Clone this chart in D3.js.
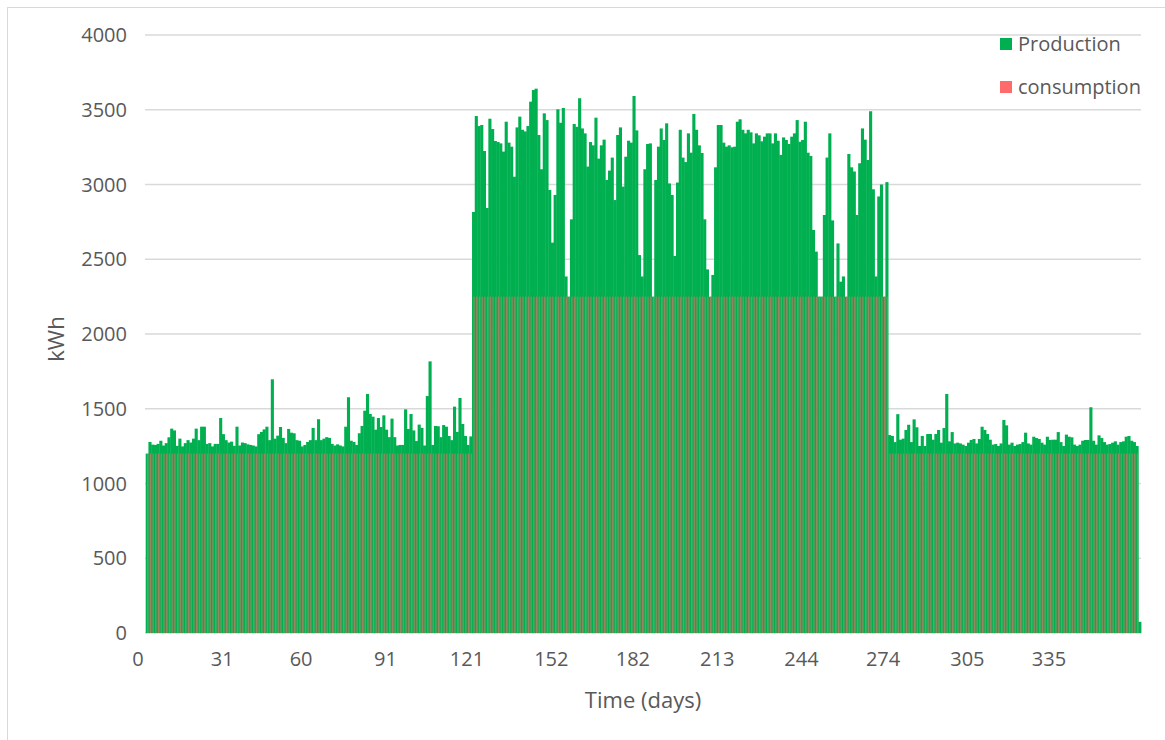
<!DOCTYPE html>
<html><head><meta charset="utf-8">
<script src="https://cdn.jsdelivr.net/npm/d3@7"></script>
<style>body{margin:0;background:#fff}svg{display:block}text{font-family:"Open Sans",sans-serif;fill:#595959}</style>
</head><body><svg id="c" width="1165" height="740"></svg>
<script>
const production = [
1200,1278,1260,1258,1265,1286,1254,1270,1309,1367,
1355,1252,1300,1248,1270,1290,1274,1300,1367,1290,
1380,1380,1265,1270,1248,1265,1265,1438,1330,1290,
1274,1280,1252,1380,1254,1274,1270,1262,1258,1254,
1248,1330,1345,1362,1380,1290,1697,1300,1320,1378,
1305,1270,1365,1340,1336,1290,1286,1248,1258,1278,
1290,1372,1290,1430,1290,1300,1310,1305,1265,1254,
1262,1254,1248,1380,1577,1286,1278,1258,1336,1385,
1487,1599,1465,1447,1360,1438,1378,1456,1360,1310,
1434,1310,1254,1258,1258,1496,1365,1465,1355,1284,
1394,1372,1254,1585,1817,1258,1385,1383,1310,1391,
1380,1318,1290,1514,1345,1572,1398,1318,1258,1315,
2816,3458,3391,3398,3224,2843,3440,3371,3291,3284,
3275,3220,3420,3280,3253,3052,3382,3454,3366,3355,
3391,3554,3632,3641,3331,3102,3476,3431,2963,2611,
2930,3503,3413,3512,2385,2250,2767,3405,3386,3577,
3375,3342,3120,3284,3262,3447,3173,3262,3300,3030,
3093,3180,2896,3331,3382,2986,3186,3293,3280,3592,
3362,2528,2385,3102,3271,3275,2250,3030,
3253,3375,3298,3409,3007,2930,2522,3013,3366,3180,
3150,3342,3213,3472,3366,3262,3211,2767,2432,2250,
2395,3115,3398,3398,3280,3253,3262,3249,3253,3420,
3436,3366,3342,3366,3349,3275,3342,3329,3289,3320,
3342,3342,3275,3342,3293,3198,3315,3298,3271,3320,
3342,3431,
3286,3298,3420,3213,3191,2696,2551,2250,2250,2796,
3180,3342,2760,2250,2606,2350,2385,2250,3204,3115,
3087,2796,3142,3375,3300,3164,3490,2968,2385,2920,
3000,2250,3016,
1324,1318,1277,1464,1293,1300,1358,1393,1277,1429,
1376,1251,1318,1251,1331,1331,1293,1331,1358,1273,
1371,1599,1282,1344,1268,1273,1268,1260,1251,1273,
1291,1298,1268,1298,1380,1358,1331,1293,1260,1264,
1251,1268,1425,1389,1260,1273,1251,1260,1264,
1277,1340,1268,1260,1313,1304,1298,1273,1260,1313,
1291,1293,1293,1344,1277,1251,1327,1313,1309,1260,
1251,1260,1286,1291,1291,1510,1286,1260,1322,1304,
1277,1260,1264,1273,1282,1260,1277,1282,1313,
1318,1286,1277,1251,
75];
const consumption = [
1200,1200,1200,1200,1200,1200,1200,1200,1200,1200,
1200,1200,1200,1200,1200,1200,1200,1200,1200,1200,
1200,1200,1200,1200,1200,1200,1200,1200,1200,1200,
1200,1200,1200,1200,1200,1200,1200,1200,1200,1200,
1200,1200,1200,1200,1200,1200,1200,1200,1200,1200,
1200,1200,1200,1200,1200,1200,1200,1200,1200,1200,
1200,1200,1200,1200,1200,1200,1200,1200,1200,1200,
1200,1200,1200,1200,1200,1200,1200,1200,1200,1200,
1200,1200,1200,1200,1200,1200,1200,1200,1200,1200,
1200,1200,1200,1200,1200,1200,1200,1200,1200,1200,
1200,1200,1200,1200,1200,1200,1200,1200,1200,1200,
1200,1200,1200,1200,1200,1200,1200,1200,1200,1200,
2250,2250,2250,2250,2250,2250,2250,2250,2250,2250,
2250,2250,2250,2250,2250,2250,2250,2250,2250,2250,
2250,2250,2250,2250,2250,2250,2250,2250,2250,2250,
2250,2250,2250,2250,2250,2250,2250,2250,2250,2250,
2250,2250,2250,2250,2250,2250,2250,2250,2250,2250,
2250,2250,2250,2250,2250,2250,2250,2250,2250,2250,
2250,2250,2250,2250,2250,2250,2250,2250,
2250,2250,2250,2250,2250,2250,2250,2250,2250,2250,
2250,2250,2250,2250,2250,2250,2250,2250,2250,2250,
2250,2250,2250,2250,2250,2250,2250,2250,2250,2250,
2250,2250,2250,2250,2250,2250,2250,2250,2250,2250,
2250,2250,2250,2250,2250,2250,2250,2250,2250,2250,
2250,2250,
2250,2250,2250,2250,2250,2250,2250,2250,2250,2250,
2250,2250,2250,2250,2250,2250,2250,2250,2250,2250,
2250,2250,2250,2250,2250,2250,2250,2250,2250,2250,
2250,2250,2250,
1200,1200,1200,1200,1200,1200,1200,1200,1200,1200,
1200,1200,1200,1200,1200,1200,1200,1200,1200,1200,
1200,1200,1200,1200,1200,1200,1200,1200,1200,1200,
1200,1200,1200,1200,1200,1200,1200,1200,1200,1200,
1200,1200,1200,1200,1200,1200,1200,1200,1200,
1200,1200,1200,1200,1200,1200,1200,1200,1200,1200,
1200,1200,1200,1200,1200,1200,1200,1200,1200,1200,
1200,1200,1200,1200,1200,1200,1200,1200,1200,1200,
1200,1200,1200,1200,1200,1200,1200,1200,1200,
1200,1200,1200,1200,
0];
const xTickLabels = [0,31,60,91,121,152,182,213,244,274,305,335];
const yTicks = [0,500,1000,1500,2000,2500,3000,3500,4000];
const seriesNames = ["Production","consumption"];
const colors = ["#00B050","#FF6B6B"];

const svg = d3.select("#c");
svg.append("rect").attr("x",7.5).attr("y",7.5).attr("width",1170).attr("height",740)
  .attr("fill","none").attr("stroke","#D9D9D9");

const N = production.length;
const x = d3.scaleBand().domain(d3.range(N)).range([145.7,1141]).padding(0);
const step = x.step();
const xLab = d3.scaleLinear().domain([0,N]).range([145.7-2.85*step,145.7-2.85*step+N*step]);
const y = d3.scaleLinear().domain([0,4000]).range([633,35]);

// grid
svg.append("g").selectAll("line").data(yTicks).join("line")
  .attr("x1",145).attr("x2",1141).attr("y1",d=>y(d)).attr("y2",d=>y(d))
  .attr("stroke","#D9D9D9").attr("stroke-width",1.3);

// y labels
svg.append("g").selectAll("text").data(yTicks).join("text")
  .attr("x",127).attr("y",d=>y(d)).attr("dy","0.35em").attr("text-anchor","end")
  .style("font-size","20px").text(d=>d);

// production bars
svg.append("g").selectAll("rect").data(production).join("rect")
  .attr("x",(d,i)=>x(i)).attr("width",step+0.4)
  .attr("y",d=>y(d)).attr("height",d=>y(0)-y(d)).attr("fill",colors[0]);

// consumption bars
svg.append("g").selectAll("rect").data(consumption).join("rect")
  .attr("x",(d,i)=>x(i)+step*0.5).attr("width",step*0.45)
  .attr("y",d=>y(d)).attr("height",d=>y(0)-y(d)).attr("fill",colors[1]).attr("fill-opacity",0.6);

// x labels
svg.append("g").selectAll("text").data(xTickLabels).join("text")
  .attr("x",d=>xLab(d)).attr("y",659).attr("dy","0.35em").attr("text-anchor","middle")
  .style("font-size","20px").text(d=>d);

svg.append("text").attr("x",643).attr("y",700).attr("dy","0.35em").attr("text-anchor","middle")
  .style("font-size","22px").text("Time (days)");
svg.append("text").attr("transform","translate(56,339) rotate(-90)").attr("dy","0.35em")
  .attr("text-anchor","middle").style("font-size","22px").text("kWh");

// legend
const lg = svg.append("g").selectAll("g").data(seriesNames).join("g")
  .attr("transform",(d,i)=>`translate(1000,${44+i*43})`);
lg.append("rect").attr("x",0).attr("y",-6).attr("width",12).attr("height",12).attr("fill",(d,i)=>colors[i]);
lg.append("text").attr("x",18).attr("dy","0.35em").style("font-size","20px").text(d=>d);
</script></body></html>
